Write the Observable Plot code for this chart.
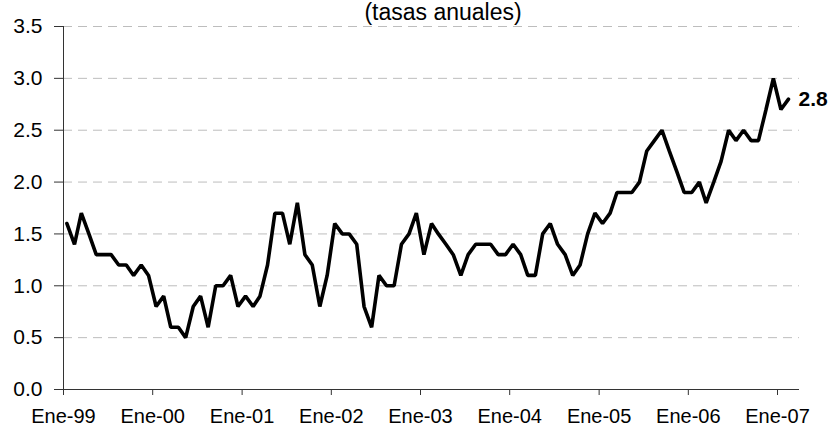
<!DOCTYPE html>
<html>
<head>
<meta charset="utf-8">
<script src="https://cdn.jsdelivr.net/npm/d3@7"></script>
<script src="https://cdn.jsdelivr.net/npm/@observablehq/plot@0.6"></script>
<style>
  html, body { margin: 0; padding: 0; background: white; }
  #wrap { position: relative; width: 831px; height: 427px; overflow: hidden; }
  #title { position: absolute; left: 0; top: 1px; width: 886px; text-align: center;
           font-family: Arial, "Liberation Sans", sans-serif; font-size: 23px; line-height: 1; color: #000; }
</style>
</head>
<body>
<div id="wrap"><div id="title">(tasas anuales)</div></div>
<script>
// Monthly annual rates, Ene-1999 .. Feb-2007
const startYear = 1999;
const values = [
  1.6,1.4,1.7,1.5,1.3,1.3,1.3,1.2,1.2,1.1,1.2,1.1, // 1999
  0.8,0.9,0.6,0.6,0.5,0.8,0.9,0.6,1.0,1.0,1.1,0.8, // 2000
  0.9,0.8,0.9,1.2,1.7,1.7,1.4,1.8,1.3,1.2,0.8,1.1, // 2001
  1.6,1.5,1.5,1.4,0.8,0.6,1.1,1.0,1.0,1.4,1.5,1.7, // 2002
  1.3,1.6,1.5,1.4,1.3,1.1,1.3,1.4,1.4,1.4,1.3,1.3, // 2003
  1.4,1.3,1.1,1.1,1.5,1.6,1.4,1.3,1.1,1.2,1.5,1.7, // 2004
  1.6,1.7,1.9,1.9,1.9,2.0,2.3,2.4,2.5,2.3,2.1,1.9, // 2005
  1.9,2.0,1.8,2.0,2.2,2.5,2.4,2.5,2.4,2.4,2.7,3.0, // 2006
  2.7,2.8                                          // 2007
];
const tickYears = [1999,2000,2001,2002,2003,2004,2005,2006,2007];
const tickLabels = ["Ene-99","Ene-00","Ene-01","Ene-02","Ene-03","Ene-04","Ene-05","Ene-06","Ene-07"];
const yTicks = [0,0.5,1,1.5,2,2.5,3,3.5];
const gridTicks = [0.5,1,1.5,2,2.5,3,3.5];

const data = values.map((v, i) => ({
  date: new Date(Date.UTC(startYear, i, 15)),
  value: v
}));
const last = data[data.length - 1];
const xStart = new Date(Date.UTC(1999, 0, 1));
const xEnd = new Date(Date.UTC(2007, 3, 1));
const yearDates = tickYears.map(y => new Date(Date.UTC(y, 0, 1)));

const chart = Plot.plot({
  width: 831,
  height: 427,
  marginLeft: 63,
  marginRight: 32,
  marginTop: 26,
  marginBottom: 38,
  style: { fontFamily: "Arial, 'Liberation Sans', sans-serif", fontSize: "21px", background: "white", color: "#000" },
  x: { type: "utc", domain: [xStart, xEnd], label: null },
  y: { domain: [0, 3.5], label: null },
  marks: [
    Plot.gridY(gridTicks, { stroke: "#bdbdbd", strokeOpacity: 1, strokeDasharray: "9,6" }),
    Plot.axisY(yTicks, { label: null, tickSize: 9, tickPadding: 12, tickFormat: d => d.toFixed(1), stroke: "#333", fill: "#000" }),
    Plot.axisX(yearDates, { label: null, tickSize: 6, tickPadding: 13, fontSize: 20, tickFormat: d => tickLabels[tickYears.indexOf(d.getUTCFullYear())], stroke: "#333", fill: "#000" }),
    Plot.ruleY([0], { stroke: "#333" }),
    Plot.ruleX([xStart], { stroke: "#333" }),
    Plot.line(data, { x: "date", y: "value", stroke: "#000", strokeWidth: 3.6, strokeLinejoin: "miter" }),
    Plot.text([last], { x: "date", y: "value", text: d => d.value.toFixed(1), dx: 10, textAnchor: "start", fontWeight: "bold", fontSize: 21, fill: "#000" })
  ]
});
document.getElementById("wrap").appendChild(chart);
</script>
</body>
</html>
